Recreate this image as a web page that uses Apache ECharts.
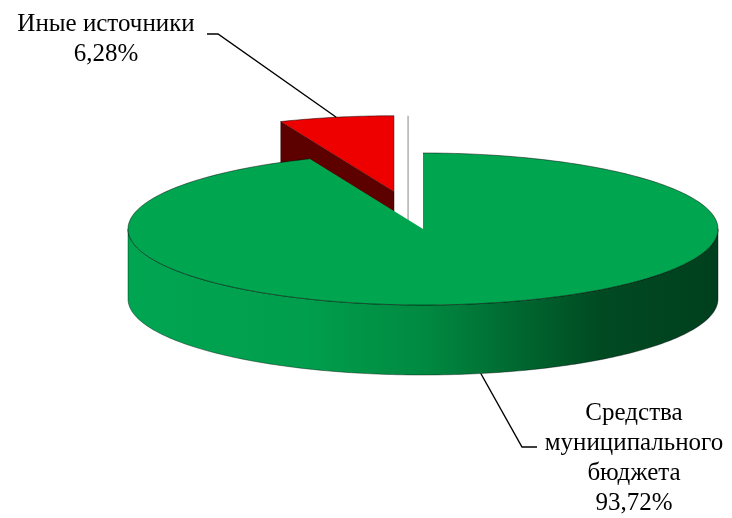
<!DOCTYPE html>
<html><head><meta charset="utf-8">
<script src="https://cdn.jsdelivr.net/npm/echarts@6/dist/echarts.min.js"></script>
<style>html,body{margin:0;padding:0;background:#fff}#c{width:732px;height:518px}</style>
</head><body><div id="c"></div>
<script>
// ---- data ----
const categories = ['Средства муниципального бюджета', 'Иные источники'];
const labelNames = [['Средства', 'муниципального', 'бюджета'], ['Иные источники']];
const values = [93.72, 6.28];
const explode = [0, 0.5];

// ---- styling / layout ----
const topColors = ['#00a54f', '#ee0000'];
const cutColors = ['#006a30', '#5c0000'];
const sideStops = [
  [[0, '#00a552'], [0.3, '#009e4d'], [0.5, '#008a41'], [0.65, '#006a31'], [0.8, '#004a22'], [1, '#003f1d']],
  [[0, '#cc0000'], [1, '#600000']]
];
const CX = 423, CY = 229, RX = 295, RY = 76, H = 70;
const labelPos = [[634, 398], [106, 9]];
const labelElbow = [[[522, 447], [537, 447]], [[218, 34], [207, 34]]];

const TAU = Math.PI * 2;
const total = values.reduce((a, b) => a + b, 0);
function angles(i) {
  let s = 0;
  for (let k = 0; k < i; k++) s += values[k];
  return [s / total * TAU, (s + values[i]) / total * TAU];
}
function pt(c, t, dy) { return [c[0] + RX * Math.sin(t), c[1] - RY * Math.cos(t) + (dy || 0)]; }
function arc(c, a, b, dy) {
  const n = Math.max(2, Math.ceil((b - a) / (Math.PI / 180)));
  const out = [];
  for (let j = 0; j <= n; j++) out.push(pt(c, a + (b - a) * j / n, dy));
  return out;
}

function renderItem(params, api) {
  const i = params.dataIndex;
  const [a, b] = angles(i);
  const m = (a + b) / 2;
  const e = explode[i];
  const c = [CX + e * RX * Math.sin(m), CY - e * RY * Math.cos(m)];
  const zb = i === 0 ? 10 : 1;
  const children = [];

  // outer wall (front half only)
  const lo = Math.max(a, Math.PI / 2), hi = Math.min(b, Math.PI * 1.5);
  if (lo < hi) {
    const pts = arc(c, lo, hi, 0).concat(arc(c, lo, hi, H).reverse());
    children.push({
      type: 'polygon', z2: zb,
      shape: { points: pts },
      style: {
        fill: { type: 'linear', x: CX - RX, y: 0, x2: CX + RX, y2: 0, global: true,
          colorStops: sideStops[i].map(s => ({ offset: s[0], color: s[1] })) },
        stroke: 'rgba(0,0,0,0.55)', lineWidth: 0.7
      }
    });
  }
  // cut faces
  const cut = (t) => [c, pt(c, t), pt(c, t, H), [c[0], c[1] + H]];
  if (Math.sin(a) < -1e-6) {
    children.push({ type: 'polygon', z2: zb + 1, shape: { points: cut(a) },
      style: { fill: cutColors[i], stroke: 'rgba(0,0,0,0.5)', lineWidth: 0.6 } });
  }
  if (Math.sin(b) > 1e-6) {
    children.push({ type: 'polygon', z2: zb + 1, shape: { points: cut(b) },
      style: { fill: cutColors[i], stroke: 'rgba(0,0,0,0.5)', lineWidth: 0.6 } });
  }
  // faint edge of the edge-on cut face of the exploded slice
  if (e > 0 && Math.abs(Math.sin(b)) < 1e-6) {
    const p = pt(c, b);
    children.push({ type: 'line', z2: zb,
      shape: { x1: p[0] + 14, y1: p[1], x2: p[0] + 14, y2: c[1] + H },
      style: { stroke: '#b0b0b0', lineWidth: 1.5 } });
  }
  // top face
  children.push({
    type: 'polygon', z2: zb + 2,
    shape: { points: [c].concat(arc(c, a, b, 0)) },
    style: { fill: topColors[i] }
  });
  children.push({
    type: 'polyline', z2: zb + 3,
    shape: { points: arc(c, a, b, 0) },
    style: { fill: null, stroke: 'rgba(0,0,0,0.6)', lineWidth: 0.8 }
  });
  if (e > 0) {
    children.push({ type: 'polyline', z2: zb + 3,
      shape: { points: [pt(c, b), c] },
      style: { fill: null, stroke: 'rgba(0,0,0,0.5)', lineWidth: 0.6 } });
    children.push({ type: 'polyline', z2: zb + 3,
      shape: { points: [pt(c, a), c] },
      style: { fill: null, stroke: 'rgba(0,0,0,0.5)', lineWidth: 0.6 } });
  }

  // leader line + label
  const anchor = Math.cos(m) < 0 ? pt(c, m, H) : pt(c, m);
  children.push({
    type: 'polyline', z2: 30,
    shape: { points: [anchor].concat(labelElbow[i]) },
    style: { fill: null, stroke: '#000', lineWidth: 1.4 }
  });
  const txt = labelNames[i].concat([values[i].toFixed(2).replace('.', ',') + '%']).join('\n');
  children.push({
    type: 'text', z2: 30,
    style: {
      text: txt, x: labelPos[i][0], y: labelPos[i][1],
      fontFamily: '"Times New Roman", "Liberation Serif", serif', fontSize: 25, lineHeight: 30, fill: '#000',
      align: 'center', verticalAlign: 'top'
    }
  });
  return { type: 'group', children };
}

const chart = echarts.init(document.getElementById('c'), null, { renderer: 'canvas' });
chart.setOption({
  backgroundColor: '#ffffff',
  animation: false,
  series: [{
    type: 'custom',
    coordinateSystem: 'none',
    renderItem,
    data: values.map((v, i) => ({ name: categories[i], value: v }))
  }]
});
</script>
</body></html>
